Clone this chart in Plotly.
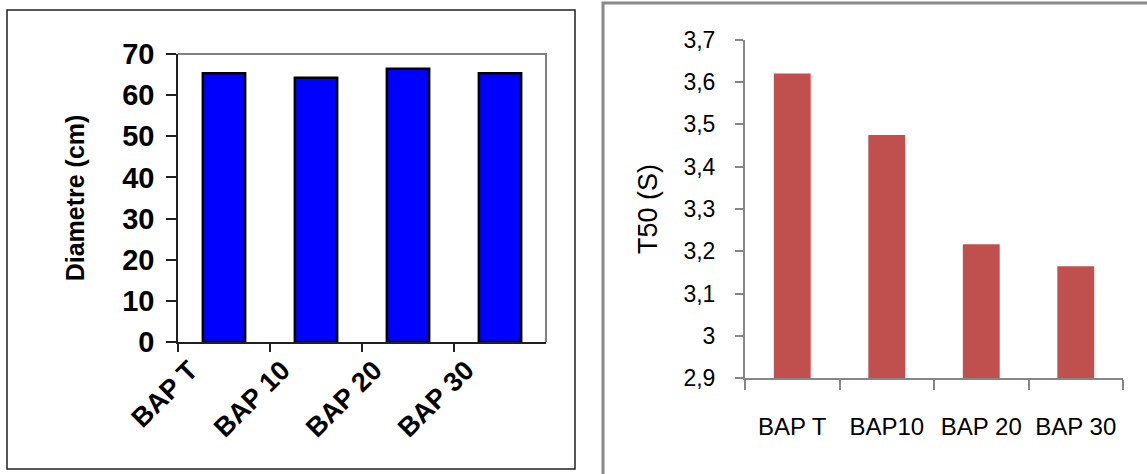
import plotly.graph_objects as go

W, H = 1147, 474

# Left panel: stem diameter per BAP treatment
diam_categories = ["BAP T", "BAP 10", "BAP 20", "BAP 30"]
diam_values = [65.3, 64.2, 66.4, 65.3]
diam_ticks = [0, 10, 20, 30, 40, 50, 60, 70]

# Right panel: T50 per BAP treatment
t50_categories = ["BAP T", "BAP10", "BAP 20", "BAP 30"]
t50_values = [3.62, 3.475, 3.217, 3.165]
t50_ticks = [2.9, 3.0, 3.1, 3.2, 3.3, 3.4, 3.5, 3.6, 3.7]


def px(x):
    return x / W


def py(y):
    return 1 - y / H


BOLD = dict(family="Liberation Sans, Arial, sans-serif", color="black", weight="bold")
REG = dict(family="Liberation Sans, Arial, sans-serif", color="black")

fig = go.Figure()

fig.add_trace(go.Bar(
    x=diam_categories, y=diam_values, xaxis="x", yaxis="y",
    width=0.46,
    marker=dict(color="#0000FF", line=dict(color="black", width=2.5)),
    hoverinfo="skip",
))

fig.add_trace(go.Bar(
    x=t50_categories, y=t50_values, xaxis="x2", yaxis="y2",
    width=0.39,
    marker=dict(color="#C0504D", line=dict(width=0)),
    hoverinfo="skip",
))

fig.update_layout(
    template="none",
    width=W, height=H,
    margin=dict(l=0, r=0, t=0, b=0, autoexpand=False),
    paper_bgcolor="white", plot_bgcolor="white",
    showlegend=False,
    separators=", ",
    xaxis=dict(
        domain=[px(178), px(546)], anchor="y", automargin=False,
        range=[-0.5, 3.5], showgrid=False, zeroline=False,
        showline=True, linecolor="#202020", linewidth=1.5,
        ticks="outside", tickson="boundaries", ticklen=8, tickcolor="#202020", tickwidth=1.5,
        tickangle=-45, tickfont=dict(size=27, **BOLD),
        ticklabelshift=-34,
    ),
    yaxis=dict(
        domain=[py(342), py(54)], anchor="x", automargin=False,
        range=[0, 70], tickvals=diam_ticks, showgrid=False, zeroline=False,
        showline=True, linecolor="#202020", linewidth=1.5,
        ticks="outside", ticklen=10, tickcolor="#202020", tickwidth=1.5,
        tickfont=dict(size=29, **BOLD), ticklabelstandoff=6,
        title=dict(text="Diametre (cm)", font=dict(size=25, **BOLD), standoff=30),
    ),
    xaxis2=dict(
        domain=[px(745), px(1123)], anchor="y2", automargin=False,
        range=[-0.5, 3.5], showgrid=False, zeroline=False,
        showline=True, linecolor="#868686", linewidth=2,
        ticks="outside", tickson="boundaries", ticklen=10, tickcolor="#868686", tickwidth=2,
        tickfont=dict(size=24, **REG), ticklabelstandoff=26,
    ),
    yaxis2=dict(
        domain=[py(378.3), py(39.7)], anchor="x2", automargin=False,
        range=[2.9, 3.7], tickvals=t50_ticks, showgrid=False, zeroline=False,
        showline=True, linecolor="#868686", linewidth=2,
        ticks="outside", ticklen=8, tickcolor="#868686", tickwidth=2,
        tickfont=dict(size=23, **REG), ticklabelstandoff=15,
        title=dict(text="T50 (S)", font=dict(size=27, **REG), standoff=18),
    ),
    shapes=[
        # outer frame of the left chart
        dict(type="rect", xref="paper", yref="paper",
             x0=px(7), y0=py(469), x1=px(575), y1=py(10),
             line=dict(color="#202020", width=1.5), layer="below"),
        # gray top and right edges of the left plot area
        dict(type="path", xref="paper", yref="paper",
             path=f"M {px(178)} {py(54)} L {px(546)} {py(54)} L {px(546)} {py(342)}",
             line=dict(color="#808080", width=2)),
        # outer frame of the right chart
        dict(type="rect", xref="paper", yref="paper",
             x0=px(603), y0=py(490), x1=px(1170), y1=py(3),
             line=dict(color="#888888", width=3), layer="below"),
    ],
)

fig.write_html("out.html")
